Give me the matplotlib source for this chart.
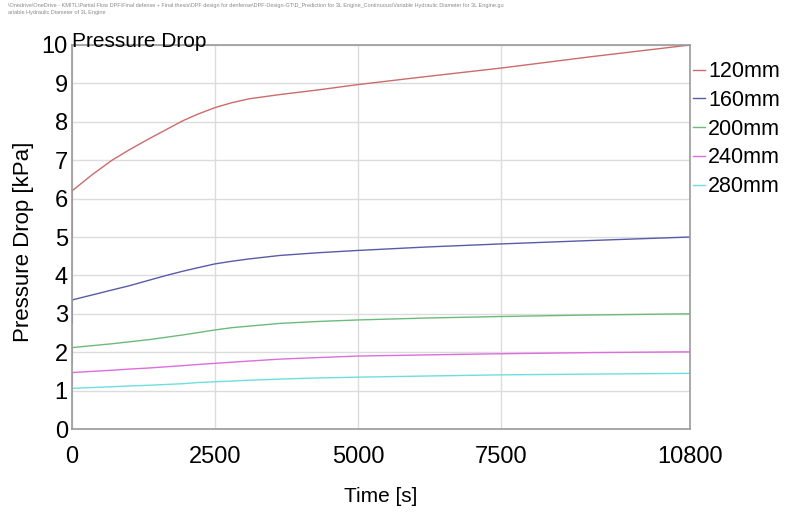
import matplotlib
matplotlib.use('Agg')
import matplotlib.pyplot as plt

plt.rcParams['font.family'] = ['Liberation Sans', 'DejaVu Sans']

# time points (s); 0 appears twice for the initial step
time = [0, 0, 350, 700, 1000, 1360, 1650, 1940, 2200, 2500, 2800, 3100, 3635, 4300, 5000, 6200, 7500, 9100, 10800]

dp_120 = [5.0, 6.2, 6.62, 7.0, 7.27, 7.57, 7.8, 8.03, 8.2, 8.37, 8.5, 8.6, 8.71, 8.83, 8.97, 9.18, 9.4, 9.7, 10.0]
dp_160 = [2.75, 3.36, 3.49, 3.62, 3.73, 3.88, 4.0, 4.11, 4.2, 4.3, 4.37, 4.43, 4.52, 4.59, 4.65, 4.74, 4.82, 4.91, 5.0]
dp_200 = [1.75, 2.12, 2.17, 2.22, 2.27, 2.33, 2.39, 2.45, 2.51, 2.58, 2.64, 2.68, 2.75, 2.80, 2.84, 2.89, 2.93, 2.97, 3.0]
dp_240 = [1.15, 1.47, 1.50, 1.53, 1.56, 1.59, 1.62, 1.65, 1.68, 1.71, 1.74, 1.77, 1.82, 1.86, 1.90, 1.93, 1.96, 1.99, 2.01]
dp_280 = [0.85, 1.06, 1.08, 1.10, 1.12, 1.14, 1.16, 1.18, 1.21, 1.23, 1.25, 1.27, 1.30, 1.33, 1.35, 1.38, 1.41, 1.43, 1.45]

labels = ['120mm', '160mm', '200mm', '240mm', '280mm']
xticks = [0, 2500, 5000, 7500, 10800]
yticks = [0, 1, 2, 3, 4, 5, 6, 7, 8, 9, 10]

header = ("\\Onedrive\\OneDrive - KMITL\\Partial Flow DPF\\Final defense + Final thesis\\DPF design for denfense"
          "\\DPF-Design-GT\\D_Prediction for 3L Engine_Continuous\\Variable Hydraulic Diameter for 3L Engine.gu\n"
          "ariable Hydraulic Diameter of 3L Engine")

colors = ['#cc6b6b', '#5a5aaa', '#6dbb7a', '#dd6ddd', '#6fdede']

fig = plt.figure(figsize=(7.85, 5.14), dpi=100)
ax = fig.add_axes([72/785, 1 - 429/514, (690-72)/785, (429-45)/514])

series = [dp_120, dp_160, dp_200, dp_240, dp_280]
for vals, lab, c in zip(series, labels, colors):
	ax.plot(time, vals, color=c, lw=1.0, label=lab)

ax.set_xlim(0, 10800)
ax.set_ylim(0, 10)
ax.set_xticks(xticks)
ax.set_yticks(yticks)
ax.tick_params(length=0, labelsize=17)
ax.tick_params(axis='x', pad=12)
ax.tick_params(axis='y', pad=3)
ax.grid(True, color='#dcdcdc', lw=1.0)
ax.set_axisbelow(True)

for spine in ["left", "top", "right", "bottom"]:
	ax.spines[spine].set_color('#9a9a9a')
	ax.spines[spine].set_linewidth(1.2)

ax.text(0.0, 0.995, 'Pressure Drop', transform=ax.transAxes, ha='left', va='baseline', fontsize=15)

fig.text(24/785, 1 - 242/514, 'Pressure Drop [kPa]', rotation=90, ha='center', va='center', fontsize=16)
fig.text(381/785, 1 - 497/514, 'Time [s]', ha='center', va='center', fontsize=15)

fig.text(8/785, 1 - 3/514, header, ha='left', va='top', fontsize=4, color='#8a8a8a', linespacing=1.6)

leg = ax.legend(loc='upper left', bbox_to_anchor=(1.005, 0.958), frameon=False, fontsize=15.5,
	handlelength=0.55, handletextpad=0.15, labelspacing=0.36, borderpad=0, borderaxespad=0)

fig.savefig('out.png', dpi=100, facecolor='white')
